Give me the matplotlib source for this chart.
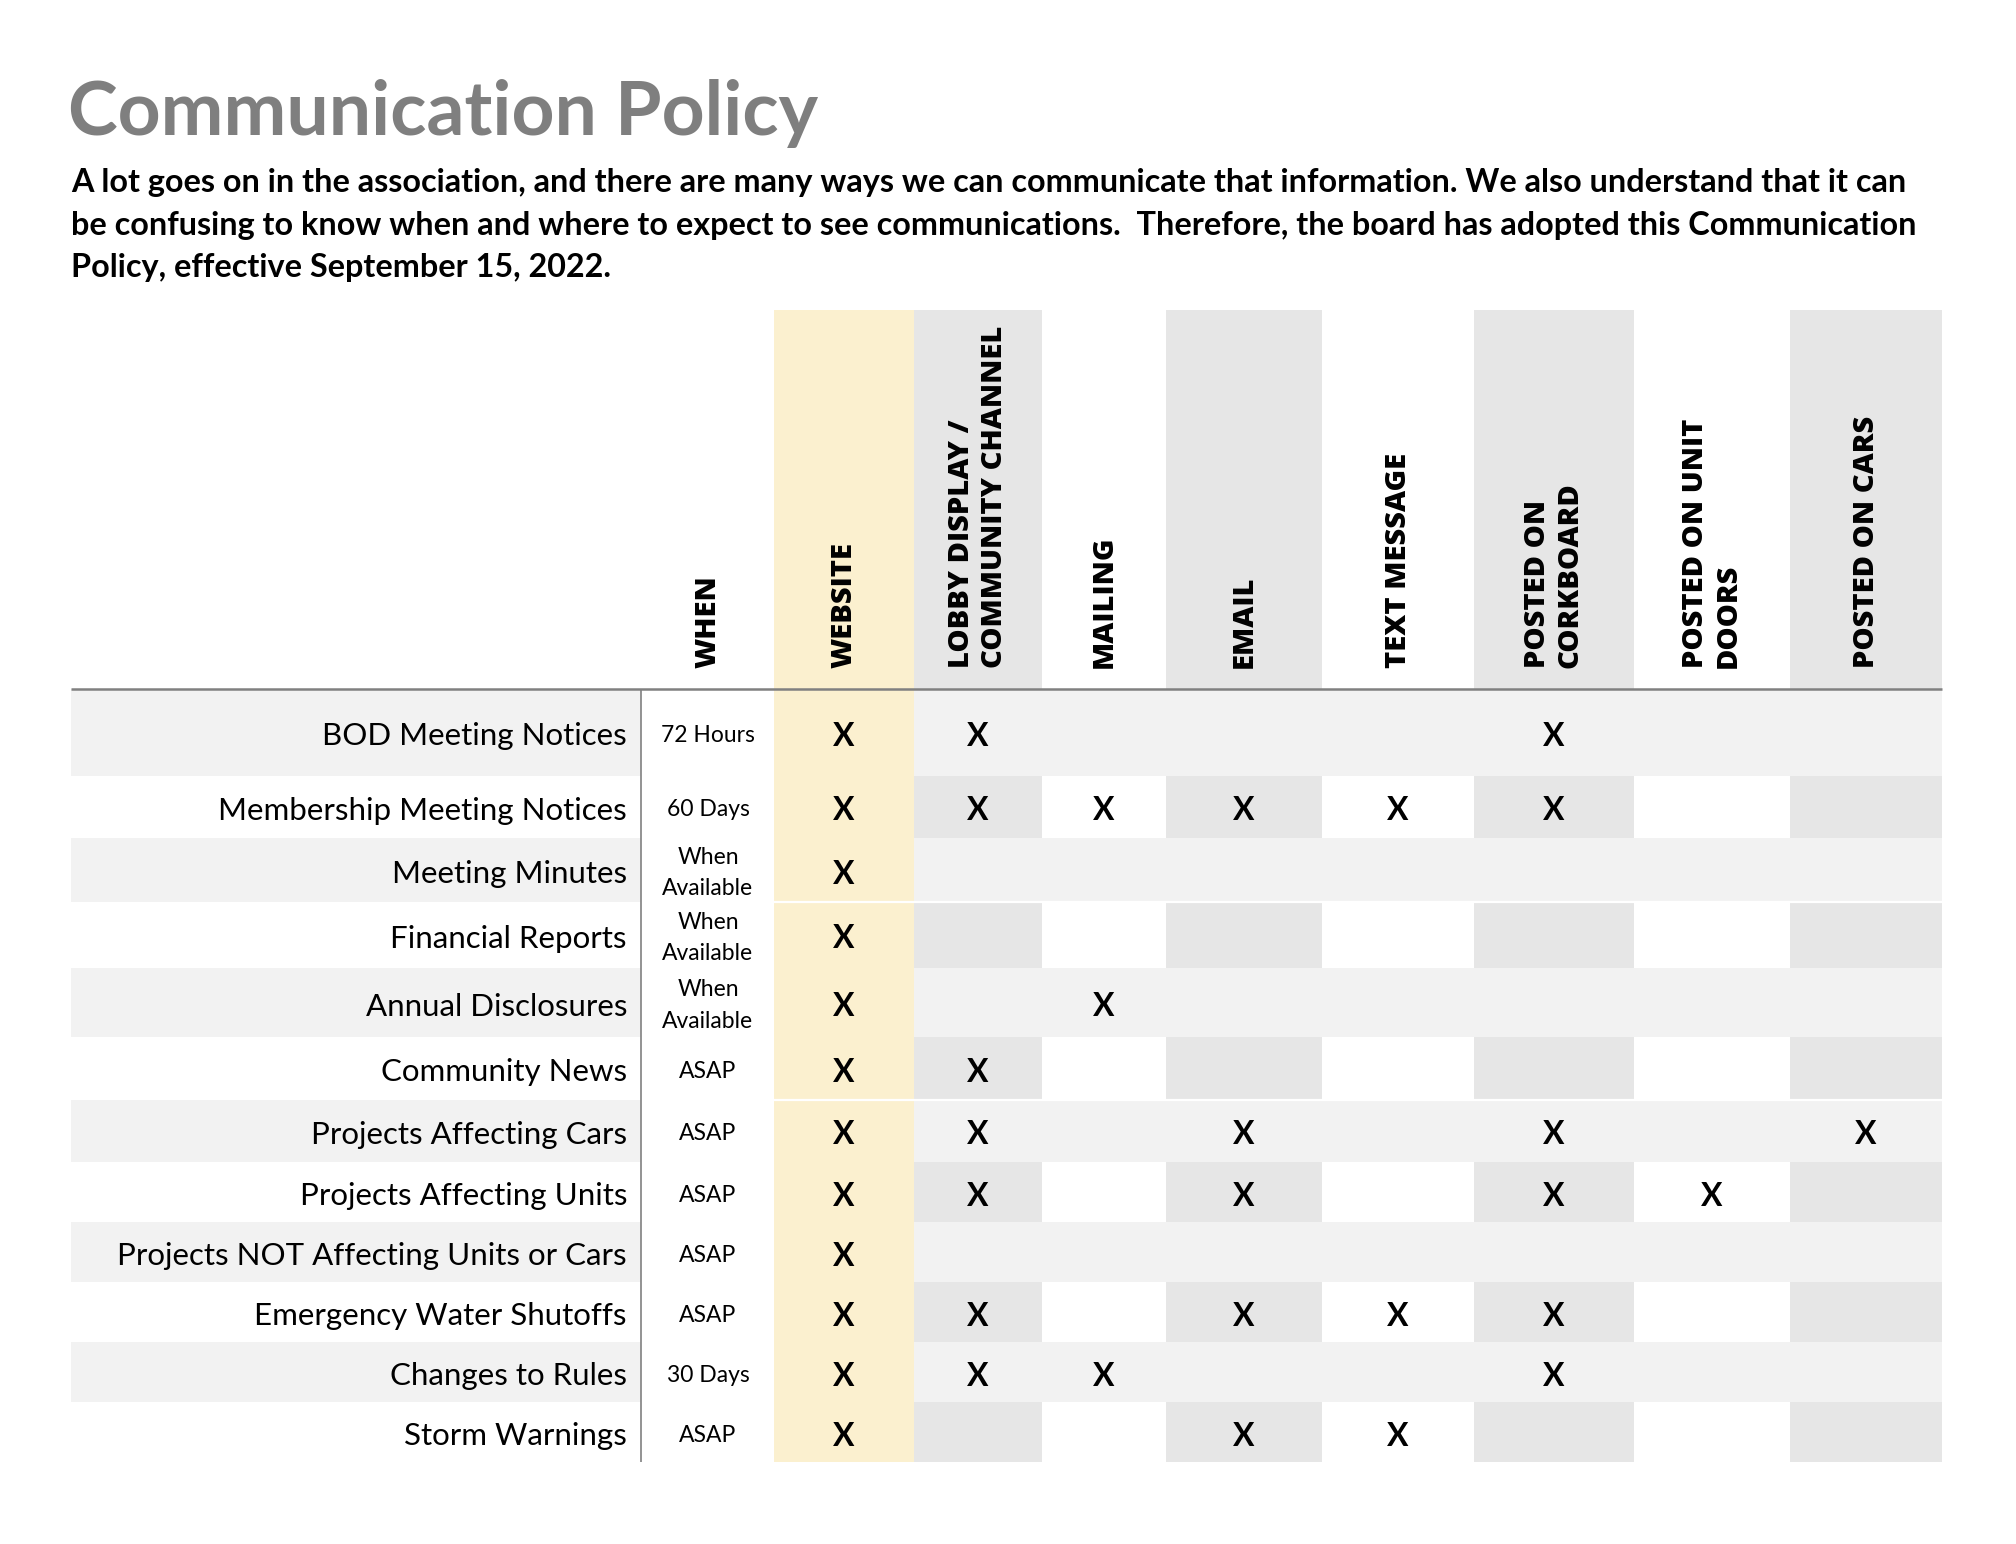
import matplotlib
matplotlib.use("Agg")
import matplotlib.pyplot as plt
from matplotlib.patches import Rectangle

# ---- data ----
title = "Communication Policy"
intro_lines = [
    "A lot goes on in the association, and there are many ways we can communicate that information. We also understand that it can",
    "be confusing to know when and where to expect to see communications.  Therefore, the board has adopted this Communication",
    "Policy, effective September 15, 2022.",
]

when_header = "WHEN"
channels = [
    "WEBSITE",
    "LOBBY DISPLAY /\nCOMMUNITY CHANNEL",
    "MAILING",
    "EMAIL",
    "TEXT MESSAGE",
    "POSTED ON\nCORKBOARD",
    "POSTED ON UNIT\nDOORS",
    "POSTED ON CARS",
]

items = [
    "BOD Meeting Notices",
    "Membership Meeting Notices",
    "Meeting Minutes",
    "Financial Reports",
    "Annual Disclosures",
    "Community News",
    "Projects Affecting Cars",
    "Projects Affecting Units",
    "Projects NOT Affecting Units or Cars",
    "Emergency Water Shutoffs",
    "Changes to Rules",
    "Storm Warnings",
]

timing = [
    "72 Hours",
    "60 Days",
    "When\nAvailable",
    "When\nAvailable",
    "When\nAvailable",
    "ASAP",
    "ASAP",
    "ASAP",
    "ASAP",
    "ASAP",
    "30 Days",
    "ASAP",
]

# 1 = channel used (columns in the order of `channels`)
uses = [
    [1, 1, 0, 0, 0, 1, 0, 0],
    [1, 1, 1, 1, 1, 1, 0, 0],
    [1, 0, 0, 0, 0, 0, 0, 0],
    [1, 0, 0, 0, 0, 0, 0, 0],
    [1, 0, 1, 0, 0, 0, 0, 0],
    [1, 1, 0, 0, 0, 0, 0, 0],
    [1, 1, 0, 1, 0, 1, 0, 1],
    [1, 1, 0, 1, 0, 1, 1, 0],
    [1, 0, 0, 0, 0, 0, 0, 0],
    [1, 1, 0, 1, 1, 1, 0, 0],
    [1, 1, 1, 0, 0, 1, 0, 0],
    [1, 0, 0, 1, 1, 0, 0, 0],
]

# ---- layout (pixel grid of the page) ----
W, H = 2016, 1544
left = 71
label_right = 627
divider_x = 641
when_center = 708
col_edges = [774, 914, 1042, 1166, 1322, 1474, 1634, 1790, 1942]
header_top = 310
header_text_bottom = 668
row_edges = [689, 776, 838, 902, 968, 1037, 1100, 1162, 1222, 1282, 1342, 1402, 1462]
break_rows = [3, 6]  # thin white gaps after these rows
text_dy = 4  # nudge body text onto the row middle

YELLOW = "#fbf0cf"
GREY = "#e6e6e6"
LIGHT = "#f2f2f2"
LINE = "#808080"

BODY = "Lato"
HEAD = "Open Sans"

fig = plt.figure(figsize=(W / 100, H / 100), dpi=100)
ax = fig.add_axes([0, 0, 1, 1])
ax.set_xlim(0, W)
ax.set_ylim(H, 0)
ax.axis("off")

# title + intro
ax.text(left - 3, 135, title, fontsize=54, fontweight="bold", color="#7f7f7f",
        family=BODY, va="baseline", ha="left")
for i, line in enumerate(intro_lines):
    ax.text(left, 192 + i * 42.5, line, fontsize=23.3, fontweight="bold",
            color="black", family=BODY, va="baseline", ha="left")

n_cols = len(channels)
grey_cols = [c for c in range(n_cols) if c % 2 == 1]

# header column backgrounds
ax.add_patch(Rectangle((col_edges[0], header_top), col_edges[1] - col_edges[0],
                       row_edges[-1] - header_top, color=YELLOW, lw=0))
for c in grey_cols:
    ax.add_patch(Rectangle((col_edges[c], header_top), col_edges[c + 1] - col_edges[c],
                           row_edges[0] - header_top, color=GREY, lw=0))

# body row bands
for r in range(len(items)):
    y0, y1 = row_edges[r], row_edges[r + 1]
    if r % 2 == 0:
        ax.add_patch(Rectangle((left, y0), divider_x - left, y1 - y0, color=LIGHT, lw=0))
        ax.add_patch(Rectangle((col_edges[1], y0), col_edges[-1] - col_edges[1], y1 - y0,
                               color=LIGHT, lw=0))
    else:
        for c in grey_cols:
            ax.add_patch(Rectangle((col_edges[c], y0), col_edges[c + 1] - col_edges[c],
                                   y1 - y0, color=GREY, lw=0))

for r in break_rows:
    ax.plot([col_edges[0], col_edges[-1]], [row_edges[r], row_edges[r]],
            color="white", lw=1.6, solid_capstyle="butt")

# rules
ax.plot([left, col_edges[-1]], [row_edges[0], row_edges[0]], color=LINE, lw=1.8,
        solid_capstyle="butt")
ax.plot([divider_x, divider_x], [row_edges[0], row_edges[-1]], color=LINE, lw=1.2,
        solid_capstyle="butt")

# header labels
head_kw = dict(rotation=90, ha="center", va="bottom", multialignment="left",
               fontsize=21, fontweight=800, family=HEAD, linespacing=1.15)
ax.text(when_center, header_text_bottom, when_header, **head_kw)
for c, name in enumerate(channels):
    xc = (col_edges[c] + col_edges[c + 1]) / 2
    ax.text(xc, header_text_bottom, name, **head_kw)

# body text
for r, (item, when, row) in enumerate(zip(items, timing, uses)):
    yc = (row_edges[r] + row_edges[r + 1]) / 2 + text_dy
    ax.text(label_right, yc, item, ha="right", va="center", fontsize=22.5,
            family=BODY)
    ax.text(when_center, yc - 1, when, ha="center", va="center", fontsize=16.5,
            family=BODY, linespacing=1.6)
    for c, used in enumerate(row):
        if used:
            xc = (col_edges[c] + col_edges[c + 1]) / 2
            ax.text(xc, yc, "X", ha="center", va="center", fontsize=23,
                    fontweight="bold", family=BODY)

fig.savefig("out.png", dpi=100, facecolor="white")
